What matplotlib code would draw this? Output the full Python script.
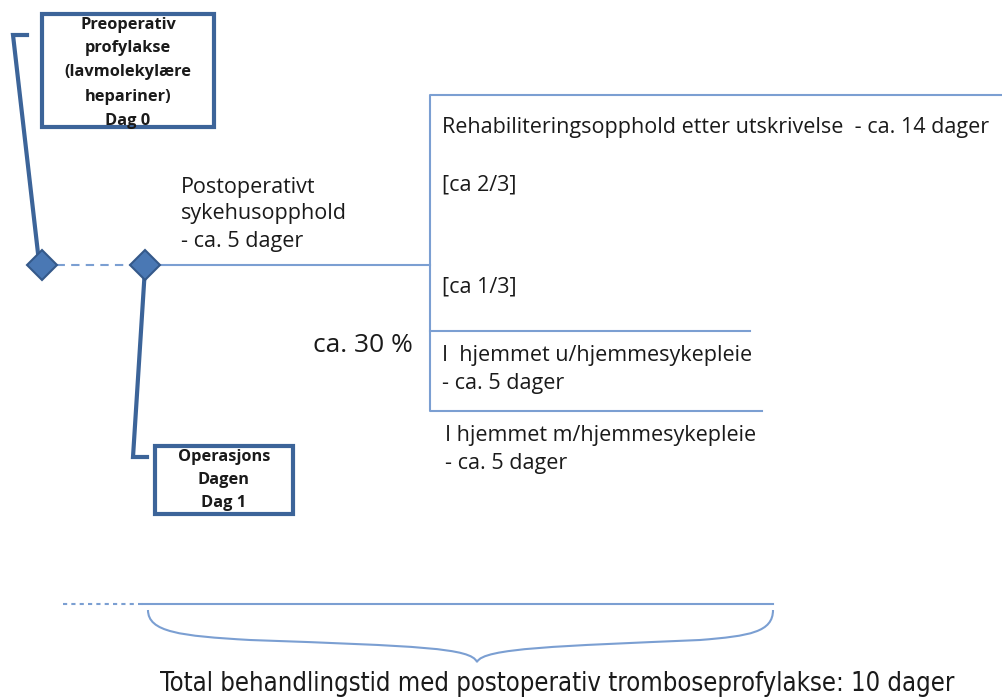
import matplotlib.pyplot as plt
from matplotlib.patches import Rectangle, PathPatch
from matplotlib.path import Path

# labels
box_labels = [
    ["Preoperativ", "profylakse", "(lavmolekylære", "hepariner)", "Dag 0"],
    ["Operasjons", "Dagen", "Dag 1"],
]
stay_label = ["Postoperativt", "sykehusopphold", "- ca. 5 dager"]
rehab_label = "Rehabiliteringsopphold etter utskrivelse  - ca. 14 dager"
share_labels = ["[ca 2/3]", "[ca 1/3]"]
home_labels = [
    ["I  hjemmet u/hjemmesykepleie", "- ca. 5 dager"],
    ["I hjemmet m/hjemmesykepleie", "- ca. 5 dager"],
]
pct_label = "ca. 30 %"
total_label = "Total behandlingstid med postoperativ tromboseprofylakse: 10 dager"

DARK = "#3c6499"
LIGHT = "#7b9fd2"
DIAMOND = "#4a78b4"
TXT = "#1a1a1a"
FONT = ["Open Sans", "DejaVu Sans"]
BODY = 15.5

fig = plt.figure(figsize=(10.03, 6.99), dpi=100)
ax = fig.add_axes([0, 0, 1, 1])
ax.set_xlim(0, 1003)
ax.set_ylim(699, 0)
ax.axis("off")

# boxes
for (x0, y0, w, h), lines, ys in [
    ((42, 14, 172, 113), box_labels[0], [25, 48, 72, 97, 121]),
    ((155, 446, 138, 68), box_labels[1], [457, 480, 503]),
]:
    ax.add_patch(Rectangle((x0, y0), w, h, fill=False, ec=DARK, lw=3))
    for s, y in zip(lines, ys):
        ax.text(x0 + w / 2, y, s, ha="center", va="center", fontsize=11.8,
                fontweight="bold", color=TXT, family=FONT)

# connectors
ax.plot([27, 13, 39], [35, 35, 262], color=DARK, lw=3, solid_joinstyle="miter")
ax.plot([145, 133, 147], [268, 457, 457], color=DARK, lw=3, solid_joinstyle="miter")

# timeline
ax.plot([42, 145], [265, 265], color=LIGHT, lw=1.5, ls=(0, (4, 3)))
ax.plot([145, 430], [265, 265], color=LIGHT, lw=1.5)
ax.plot([1003, 430, 430, 762], [95, 95, 411, 411], color=LIGHT, lw=1.5)
ax.plot([430, 750], [331, 331], color=LIGHT, lw=1.5)
for x in [42, 145]:
    ax.plot(x, 265, marker="D", ms=15, mfc=DIAMOND, mec="#35598a", mew=1.5)

# texts
for s, y in zip(stay_label, [187, 213, 242]):
    ax.text(181, y, s, ha="left", va="center", fontsize=BODY, color=TXT, family=FONT)
ax.text(442, 128, rehab_label, ha="left", va="center", fontsize=BODY, color=TXT, family=FONT)
for s, y in zip(share_labels, [185, 287]):
    ax.text(442, y, s, ha="left", va="center", fontsize=BODY, color=TXT, family=FONT)
for lines, x, ys in [(home_labels[0], 442, [355, 384]), (home_labels[1], 445, [435, 464])]:
    for s, y in zip(lines, ys):
        ax.text(x, y, s, ha="left", va="center", fontsize=BODY, color=TXT, family=FONT)
ax.text(313, 346, pct_label, ha="left", va="center", fontsize=19, color=TXT, family=FONT)

# bottom scale + brace
ax.plot([63, 143], [604, 604], color=LIGHT, lw=1.5, ls=(0, (2, 2)))
ax.plot([143, 773], [604, 604], color=LIGHT, lw=1.5)
L, R, tip, top = 148, 773, 477, 610
verts = [(L, top), (L, 632), (180, 636), (250, 640),
         (420, 646), (tip - 6, 648), (tip, 662),
         (tip + 6, 648), (560, 646), (700, 640),
         (750, 636), (R, 632), (R, top)]
codes = [Path.MOVETO] + [Path.CURVE4] * 12
ax.add_patch(PathPatch(Path(verts, codes), fill=False, ec=LIGHT, lw=1.5))

ax.text(557, 684, total_label, ha="center", va="center", fontsize=18.4, color=TXT,
        family="DejaVu Sans", fontstretch="condensed")

fig.savefig("out.png", dpi=100)
